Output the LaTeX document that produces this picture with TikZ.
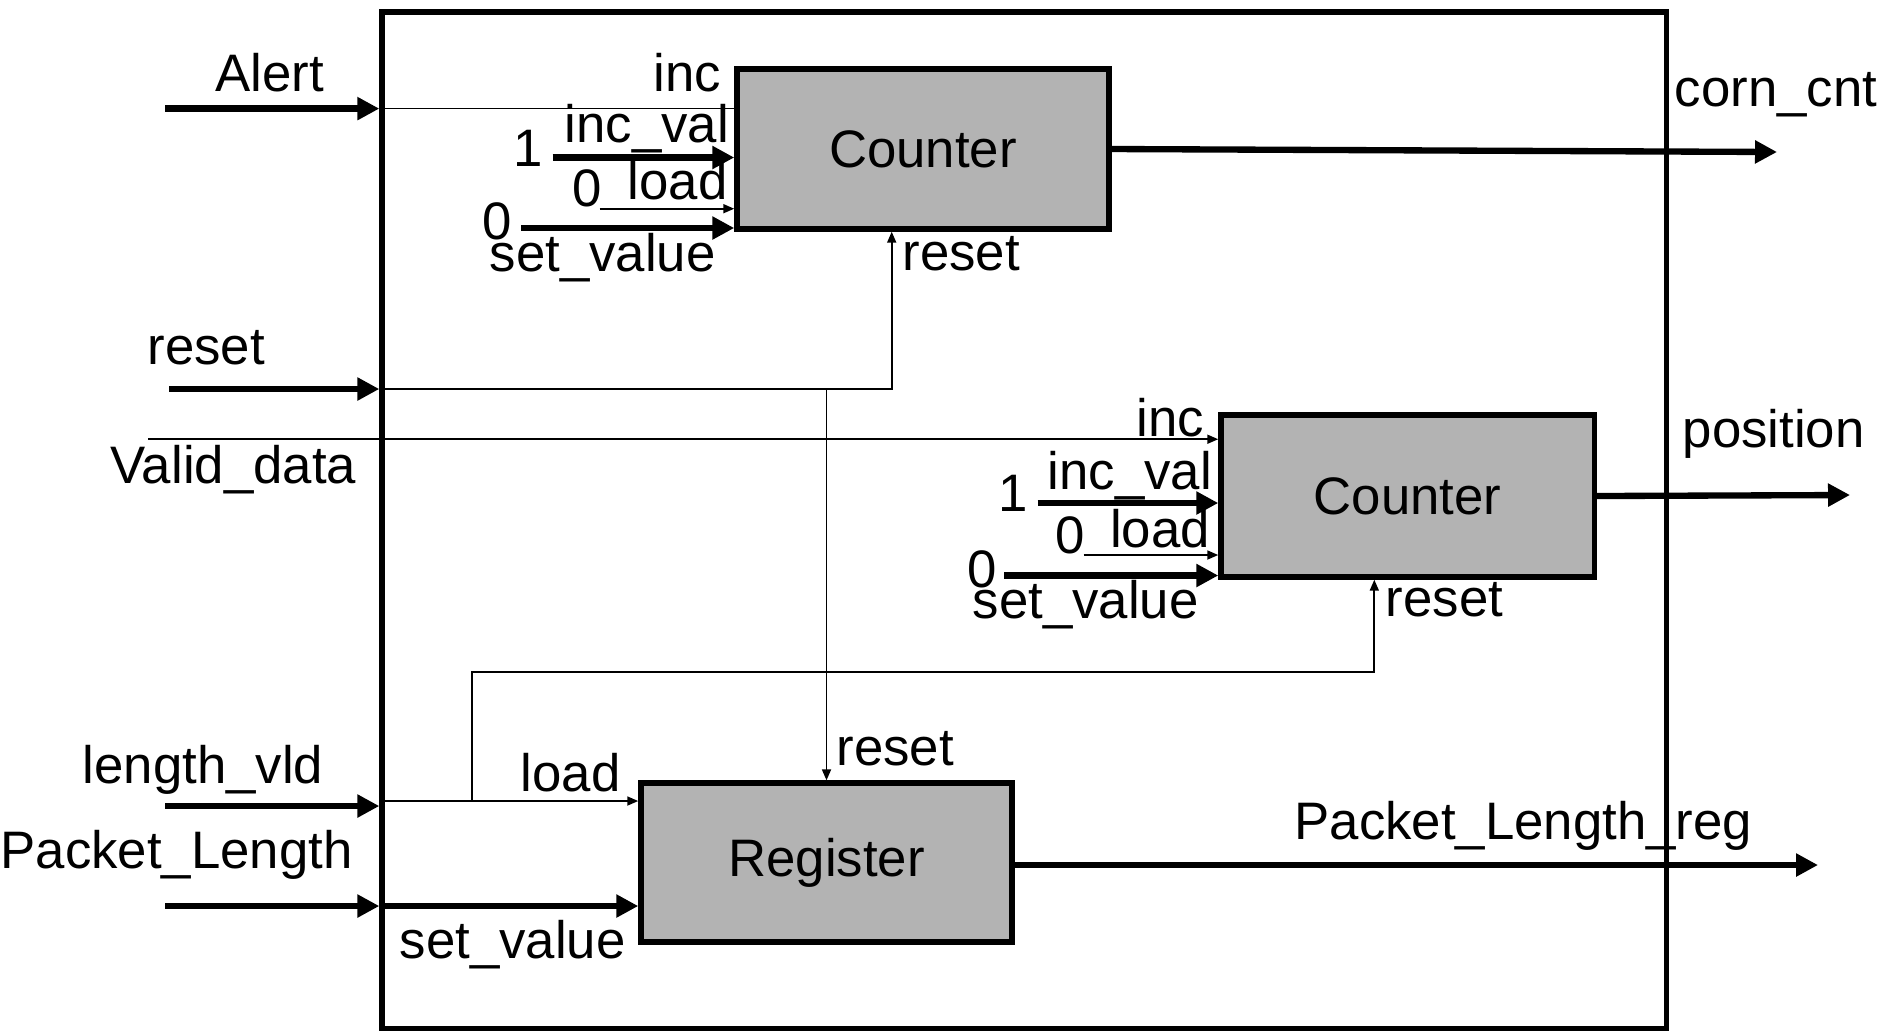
\documentclass[tikz,border=0pt]{standalone}
\usepackage{fontspec}
\setmainfont{Liberation Sans}
\usetikzlibrary{arrows.meta}
\definecolor{boxgray}{RGB}{179,179,179}
\begin{document}
\begin{tikzpicture}[x=0.01cm,y=-0.01cm,
  lbl/.style={inner sep=0pt, font=\fontsize{15}{18}\selectfont},
  blk/.style={draw, line width=1.5pt, fill=boxgray, inner sep=0pt, font=\fontsize{15}{18}\selectfont},
  bus/.style={line width=1.8pt, -{Triangle[length=0.22cm,width=0.22cm]}},
  sig/.style={line width=0.5pt, -{Triangle[length=0.11cm,width=0.09cm]}},
  sign/.style={line width=0.5pt}]
\useasboundingbox (0,0) rectangle (1892,1032);
\node[draw, line width=1.6pt, minimum width=12.835cm, minimum height=10.16cm, inner sep=0pt] (outer) at (1024.25,520) {};
\node[blk, minimum width=3.72cm, minimum height=1.6cm] (c1) at (923,149) {Counter};
\node[blk, minimum width=3.73cm, minimum height=1.62cm] (c2) at (1407.5,496) {Counter};
\node[blk, minimum width=3.71cm, minimum height=1.59cm] (reg) at (826.5,862.5) {Register};
% free ends and junctions
\coordinate (alertS) at (165,108.6);
\coordinate (resetS) at (169,389);
\coordinate (validS) at (148,439.2);
\coordinate (lvldS) at (165,806);
\coordinate (plS) at (165,906);
\coordinate (c1one) at (552.6,157.5);
\coordinate (c1zl) at (599.7,208.7);
\coordinate (c1zs) at (521,228);
\coordinate (c2one) at (1037.7,503);
\coordinate (c2zl) at (1083.5,555);
\coordinate (c2zs) at (1004,575.5);
\coordinate (cornE) at (1777,152);
\coordinate (posE) at (1850,495);
\coordinate (plrE) at (1818,865);
\coordinate (rstJ) at (826.5,389);
\coordinate (c1rst) at (891.7,389);
\coordinate (lvJ) at (471.8,801);
\coordinate (c2rstC) at (1374.3,672);
% counter 1
\draw[bus] (alertS) -- (outer.west |- alertS);
\draw[sign] (outer.west |- alertS) -- (c1.west |- alertS);
\draw[bus] (c1one) -- (c1.west |- c1one);
\draw[sig] (c1zl) -- (c1.west |- c1zl);
\draw[bus] (c1zs) -- (c1.west |- c1zs);
\draw[bus] (c1.east) -- (cornE);
% reset
\draw[bus] (resetS) -- (outer.west |- resetS);
\draw[sig] (outer.west |- rstJ) -- (c1rst) -- (c1rst |- c1.south);
\draw[sig] (rstJ) -- (reg.north);
% counter 2
\draw[sig] (validS) -- (c2.west |- validS);
\draw[bus] (c2one) -- (c2.west |- c2one);
\draw[sig] (c2zl) -- (c2.west |- c2zl);
\draw[bus] (c2zs) -- (c2.west |- c2zs);
\draw[bus] (c2.east) -- (posE);
\draw[sig] (lvJ) -- (lvJ |- c2rstC) -- (c2rstC) -- (c2rstC |- c2.south);
% register
\draw[bus] (lvldS) -- (outer.west |- lvldS);
\draw[sig] (outer.west |- lvJ) -- (reg.west |- lvJ);
\draw[bus] (plS) -- (outer.west |- plS);
\draw[bus] (outer.west |- plS) -- (reg.west |- plS);
\draw[bus] (reg.east |- plrE) -- (plrE);
% labels
\node[lbl, anchor=base west] (lAlert) at (215,91.7) {Alert};
\node[lbl, anchor=base east] (lc1inc) at (722,91.7) {inc};
\node[lbl, anchor=base] (lc1one) at (528.5,166.5) {1};
\node[lbl, anchor=base west] (lc1iv) at (564,142) {inc\_val};
\node[lbl, anchor=base] (lc1zl) at (587.6,206) {0};
\node[lbl, anchor=base west] (lc1ld) at (627,199) {load};
\node[lbl, anchor=base] (lc1zs) at (497,239.5) {0};
\node[lbl, anchor=base west] (lc1sv) at (489,271.5) {set\_value};
\node[lbl, anchor=base west] (lc1rs) at (902,270.3) {reset};
\node[lbl, anchor=base west] (lcorn) at (1674,106.2) {corn\_cnt};
\node[lbl, anchor=base west] (lreset) at (147,364.4) {reset};
\node[lbl, anchor=base west] (lvalid) at (110,483.8) {Valid\_data};
\node[lbl, anchor=base east] (lc2inc) at (1205,436.8) {inc};
\node[lbl, anchor=base] (lc2one) at (1013.5,511.6) {1};
\node[lbl, anchor=base west] (lc2iv) at (1047,489) {inc\_val};
\node[lbl, anchor=base] (lc2zl) at (1070,553.5) {0};
\node[lbl, anchor=base west] (lc2ld) at (1109.5,547) {load};
\node[lbl, anchor=base] (lc2zs) at (982,587) {0};
\node[lbl, anchor=base west] (lc2sv) at (972,618.5) {set\_value};
\node[lbl, anchor=base west] (lc2rs) at (1385,616.6) {reset};
\node[lbl, anchor=base west] (lpos) at (1682,447.6) {position};
\node[lbl, anchor=base west] (lregrs) at (836,765) {reset};
\node[lbl, anchor=base west] (llvld) at (82,783) {length\_vld};
\node[lbl, anchor=base west] (lregld) at (520,791.5) {load};
\node[lbl, anchor=base west] (lpl) at (0,868.8) {Packet\_Length};
\node[lbl, anchor=base west] (lregsv) at (399,958) {set\_value};
\node[lbl, anchor=base west] (lplr) at (1294,839.8) {Packet\_Length\_reg};
\end{tikzpicture}
\end{document}
